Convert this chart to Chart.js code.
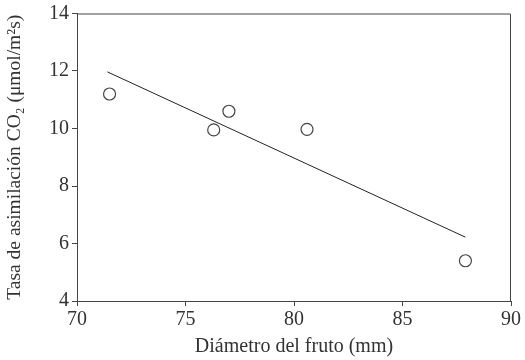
<!DOCTYPE html>
<html lang="es">
<head>
<meta charset="UTF-8">
<title>Tasa de asimilación vs diámetro del fruto</title>
<script src="https://cdn.jsdelivr.net/npm/chart.js@4.4.1/dist/chart.umd.min.js"></script>
<style>
  html, body { margin: 0; padding: 0; background: #fff; }
  #wrap { width: 525px; height: 360px; }
</style>
</head>
<body>
<div id="wrap"><canvas id="grafico" width="525" height="360"></canvas></div>
<script>
// datos
const diametro = [71.5, 76.3, 77.0, 80.6, 87.9];
const tasa = [11.2, 9.95, 10.6, 9.97, 5.4];
const ajusteX = [71.4, 87.9];
const ajusteY = [11.97, 6.22];
const xTicks = [70, 75, 80, 85, 90];
const yTicks = [4, 6, 8, 10, 12, 14];

const gris = '#444';
const fuente = '"Liberation Serif", "DejaVu Serif", serif';

// marco completo alrededor del área del gráfico
const marco = {
  id: 'marco',
  afterDraw(chart) {
    const a = chart.chartArea, ctx = chart.ctx;
    ctx.save();
    ctx.strokeStyle = gris;
    ctx.lineWidth = 1;
    ctx.beginPath();
    ctx.moveTo(a.left, a.top + 0.5);
    ctx.lineTo(a.right - 0.5, a.top + 0.5);
    ctx.lineTo(a.right - 0.5, a.bottom);
    ctx.stroke();
    ctx.restore();
  }
};

new Chart(document.getElementById('grafico'), {
  type: 'scatter',
  data: {
    datasets: [
      {
        data: diametro.map((x, i) => ({ x: x, y: tasa[i] })),
        pointRadius: 6,
        pointBorderWidth: 1.2,
        pointBorderColor: gris,
        pointBackgroundColor: '#fff',
        order: 1
      },
      {
        type: 'line',
        data: ajusteX.map((x, i) => ({ x: x, y: ajusteY[i] })),
        borderColor: '#222',
        borderWidth: 1,
        pointRadius: 0,
        fill: false,
        order: 2
      }
    ]
  },
  options: {
    responsive: false,
    animation: false,
    maintainAspectRatio: false,
    layout: { padding: { top: 11, right: 14, left: 0, bottom: 0 } },
    plugins: { legend: { display: false }, tooltip: { enabled: false } },
    scales: {
      x: {
        type: 'linear',
        min: 70, max: 90,
        afterBuildTicks: s => { s.ticks = xTicks.map(v => ({ value: v })); },
        afterFit: s => { s.height = 59; },
        grid: { drawOnChartArea: false, tickLength: 5, color: gris },
        border: { color: gris },
        ticks: { color: '#333', font: { family: fuente, size: 20 }, padding: 2, maxRotation: 0 },
        title: {
          display: true,
          text: 'Diámetro del fruto (mm)',
          color: '#333',
          font: { family: fuente, size: 20 },
          padding: { top: 2, bottom: 1 }
        }
      },
      y: {
        type: 'linear',
        min: 4, max: 14,
        afterBuildTicks: s => { s.ticks = yTicks.map(v => ({ value: v })); },
        afterFit: s => { s.width = 77; },
        grid: { drawOnChartArea: false, tickLength: 5, color: gris },
        border: { color: gris },
        ticks: { color: '#333', font: { family: fuente, size: 20, lineHeight: 1.05 }, padding: 3 },
        title: {
          display: true,
          text: 'Tasa de asimilación CO₂ (μmol/m²s)',
          color: '#333',
          font: { family: fuente, size: 19.5 },
          padding: { top: 3, bottom: 4 }
        }
      }
    }
  },
  plugins: [marco]
});
</script>
</body>
</html>
